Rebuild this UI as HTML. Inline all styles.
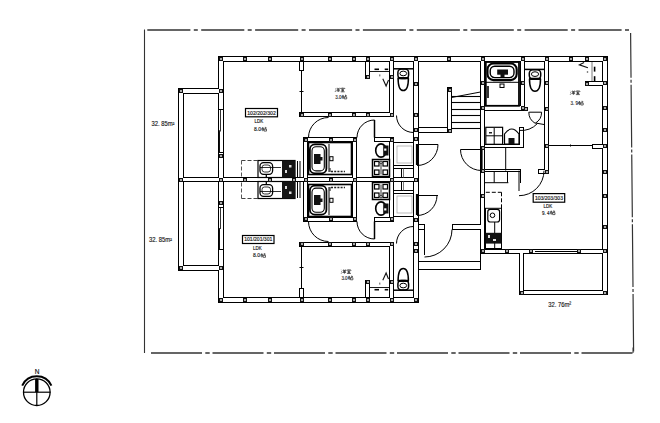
<!DOCTYPE html>
<html><head><meta charset="utf-8"><style>html,body{margin:0;padding:0;background:#fff;width:660px;height:423px;overflow:hidden}svg{display:block}</style></head>
<body><svg width="660" height="423" viewBox="0 0 660 423"><rect width="660" height="423" fill="#fff"/><g fill="none" stroke="#000" stroke-width="1"><rect x="218.5" y="56.5" width="389" height="5"/><rect x="218.5" y="297.5" width="200" height="5"/><rect x="218.5" y="56.5" width="5" height="246"/><rect x="178.5" y="88.5" width="5" height="182"/><rect x="178.5" y="88.5" width="45" height="5"/><rect x="178.5" y="265.5" width="45" height="5"/><rect x="178.5" y="177.5" width="240" height="4"/><rect x="413.5" y="56.5" width="5" height="246"/><rect x="299.5" y="112.5" width="94" height="4"/><rect x="299.5" y="242.5" width="94" height="4"/><rect x="299.5" y="61.5" width="4" height="9"/><rect x="299.5" y="288.5" width="4" height="9"/><rect x="389.5" y="56.5" width="4" height="60"/><rect x="389.5" y="242.5" width="4" height="60"/><rect x="365.5" y="61.5" width="4" height="17"/><rect x="365.5" y="280.5" width="4" height="17"/><rect x="303.5" y="137.5" width="53" height="4"/><rect x="303.5" y="217.5" width="53" height="4"/><rect x="303.5" y="137.5" width="4" height="44"/><rect x="303.5" y="177.5" width="4" height="44"/><rect x="352.5" y="137.5" width="4" height="44"/><rect x="352.5" y="177.5" width="4" height="44"/><rect x="374.5" y="137.5" width="19" height="4"/><rect x="374.5" y="217.5" width="19" height="4"/><rect x="389.5" y="137.5" width="4" height="44"/><rect x="389.5" y="177.5" width="4" height="44"/><rect x="480.5" y="56.5" width="4" height="197"/><rect x="602.5" y="56.5" width="5" height="238"/><rect x="480.5" y="249.5" width="127" height="4"/><rect x="519.5" y="249.5" width="4" height="45"/><rect x="519.5" y="290.5" width="88" height="4"/><rect x="544.5" y="56.5" width="4" height="117"/><rect x="520.5" y="56.5" width="4" height="54"/><rect x="480.5" y="105.5" width="44" height="5"/><rect x="447.5" y="87.5" width="4" height="45"/><rect x="585.5" y="81.5" width="18" height="4"/><rect x="592.5" y="144.5" width="11" height="4"/><rect x="538.5" y="169.5" width="10" height="4"/><rect x="418.5" y="224.5" width="6" height="5"/><rect x="452.5" y="224.5" width="32" height="5"/><rect x="484.5" y="144.5" width="39" height="3"/><rect x="519.5" y="127.5" width="4" height="20"/><rect x="484.5" y="169.5" width="36" height="2"/></g><g fill="#fff" stroke="none"><rect x="219" y="57" width="388" height="4"/><rect x="219" y="298" width="199" height="4"/><rect x="219" y="57" width="4" height="245"/><rect x="179" y="89" width="4" height="181"/><rect x="179" y="89" width="44" height="4"/><rect x="179" y="266" width="44" height="4"/><rect x="179" y="178" width="239" height="3"/><rect x="414" y="57" width="4" height="245"/><rect x="300" y="113" width="93" height="3"/><rect x="300" y="243" width="93" height="3"/><rect x="300" y="62" width="3" height="8"/><rect x="300" y="289" width="3" height="8"/><rect x="390" y="57" width="3" height="59"/><rect x="390" y="243" width="3" height="59"/><rect x="366" y="62" width="3" height="16"/><rect x="366" y="281" width="3" height="16"/><rect x="304" y="138" width="52" height="3"/><rect x="304" y="218" width="52" height="3"/><rect x="304" y="138" width="3" height="43"/><rect x="304" y="178" width="3" height="43"/><rect x="353" y="138" width="3" height="43"/><rect x="353" y="178" width="3" height="43"/><rect x="375" y="138" width="18" height="3"/><rect x="375" y="218" width="18" height="3"/><rect x="390" y="138" width="3" height="43"/><rect x="390" y="178" width="3" height="43"/><rect x="481" y="57" width="3" height="196"/><rect x="603" y="57" width="4" height="237"/><rect x="481" y="250" width="126" height="3"/><rect x="520" y="250" width="3" height="44"/><rect x="520" y="291" width="87" height="3"/><rect x="545" y="57" width="3" height="116"/><rect x="521" y="57" width="3" height="53"/><rect x="481" y="106" width="43" height="4"/><rect x="448" y="88" width="3" height="44"/><rect x="586" y="82" width="17" height="3"/><rect x="593" y="145" width="10" height="3"/><rect x="539" y="170" width="9" height="3"/><rect x="419" y="225" width="5" height="4"/><rect x="453" y="225" width="31" height="4"/><rect x="485" y="145" width="38" height="2"/><rect x="520" y="128" width="3" height="19"/><rect x="485" y="170" width="35" height="1"/></g><g font-family="Liberation Sans, sans-serif" fill="#222"><line x1="144.5" y1="29.5" x2="144.5" y2="353" stroke="#333" stroke-width="1.1" /><line x1="147.3" y1="30" x2="630.8" y2="30" stroke="#333" stroke-width="1.3" stroke-dasharray="43.1 3.4 4 3.4"/><line x1="630.6" y1="33" x2="633.6" y2="351.5" stroke="#333" stroke-width="1.2" stroke-dasharray="62.7 2 3 2" stroke-dashoffset="17.9"/><line x1="151" y1="353" x2="632.5" y2="353" stroke="#333" stroke-width="1.3" stroke-dasharray="51 3.3 4.4 2.8"/><line x1="633" y1="347.5" x2="633" y2="353" stroke="#333" stroke-width="1" /><line x1="218.5" y1="109.5" x2="223.5" y2="109.5" stroke="#000" stroke-width="1" /><line x1="218.5" y1="152.5" x2="223.5" y2="152.5" stroke="#000" stroke-width="1" /><line x1="220.5" y1="110" x2="220.5" y2="131" stroke="#333" stroke-width="1" /><line x1="219.5" y1="130.5" x2="219.5" y2="152.5" stroke="#111" stroke-width="1" /><line x1="219" y1="131" x2="221" y2="131" stroke="#333" stroke-width="1" /><line x1="218.5" y1="207.5" x2="223.5" y2="207.5" stroke="#000" stroke-width="1" /><line x1="218.5" y1="249.5" x2="223.5" y2="249.5" stroke="#000" stroke-width="1" /><line x1="220.5" y1="208" x2="220.5" y2="228.5" stroke="#333" stroke-width="1" /><line x1="219.5" y1="228" x2="219.5" y2="249.5" stroke="#111" stroke-width="1" /><line x1="219" y1="228.5" x2="221" y2="228.5" stroke="#333" stroke-width="1" /><line x1="301.5" y1="70.5" x2="301.5" y2="112.5" stroke="#000" stroke-width="1" /><g transform="matrix(1 0 0 -1 0 359)"><line x1="301.5" y1="70.5" x2="301.5" y2="112.5" stroke="#000" stroke-width="1" /></g><line x1="299.5" y1="91.5" x2="303.5" y2="91.5" stroke="#000" stroke-width="1" /><g transform="matrix(1 0 0 -1 0 359)"><line x1="299.5" y1="91.5" x2="303.5" y2="91.5" stroke="#000" stroke-width="1" /></g><path d="M308.5 137.5 A20 20 0 0 1 328.5 117.5" fill="none" stroke="#000" stroke-width="1"/><g transform="matrix(1 0 0 -1 0 359)"><path d="M308.5 137.5 A20 20 0 0 1 328.5 117.5" fill="none" stroke="#000" stroke-width="1"/></g><path d="M357 137.5 A17.5 17.5 0 0 1 374.5 120" fill="none" stroke="#000" stroke-width="1"/><g transform="matrix(1 0 0 -1 0 359)"><path d="M357 137.5 A17.5 17.5 0 0 1 374.5 120" fill="none" stroke="#000" stroke-width="1"/></g><line x1="374.5" y1="120" x2="374.5" y2="137.5" stroke="#000" stroke-width="1.5" /><g transform="matrix(1 0 0 -1 0 359)"><line x1="374.5" y1="120" x2="374.5" y2="137.5" stroke="#000" stroke-width="1.5" /></g><path d="M413.5 132.5 A17 17 0 0 1 396.5 115.5" fill="none" stroke="#000" stroke-width="1"/><g transform="matrix(1 0 0 -1 0 359)"><path d="M413.5 132.5 A17 17 0 0 1 396.5 115.5" fill="none" stroke="#000" stroke-width="1"/></g><rect x="308.5" y="142.5" width="43" height="32" rx="0" fill="none" stroke="#000" stroke-width="1.6" /><g transform="matrix(1 0 0 -1 0 359)"><rect x="308.5" y="142.5" width="43" height="32" rx="0" fill="none" stroke="#000" stroke-width="1.6" /></g><rect x="309.9" y="144.3" width="16.5" height="29.1" rx="5" fill="none" stroke="#000" stroke-width="1.8" /><g transform="matrix(1 0 0 -1 0 359)"><rect x="309.9" y="144.3" width="16.5" height="29.1" rx="5" fill="none" stroke="#000" stroke-width="1.8" /></g><rect x="312" y="146.7" width="12.3" height="24.2" rx="4" fill="none" stroke="#000" stroke-width="1.1" /><g transform="matrix(1 0 0 -1 0 359)"><rect x="312" y="146.7" width="12.3" height="24.2" rx="4" fill="none" stroke="#000" stroke-width="1.1" /></g><rect x="314" y="154" width="6.5" height="10" rx="0" fill="#111" stroke="none" stroke-width="1" /><g transform="matrix(1 0 0 -1 0 359)"><rect x="314" y="154" width="6.5" height="10" rx="0" fill="#111" stroke="none" stroke-width="1" /></g><rect x="319" y="157" width="3.5" height="3.5" rx="0" fill="#111" stroke="none" stroke-width="1" /><g transform="matrix(1 0 0 -1 0 359)"><rect x="319" y="157" width="3.5" height="3.5" rx="0" fill="#111" stroke="none" stroke-width="1" /></g><line x1="329" y1="144" x2="329" y2="172" stroke="#000" stroke-width="1" /><g transform="matrix(1 0 0 -1 0 359)"><line x1="329" y1="144" x2="329" y2="172" stroke="#000" stroke-width="1" /></g><rect x="329.8" y="156.7" width="3.2" height="4" rx="0" fill="none" stroke="#000" stroke-width="1" /><g transform="matrix(1 0 0 -1 0 359)"><rect x="329.8" y="156.7" width="3.2" height="4" rx="0" fill="none" stroke="#000" stroke-width="1" /></g><line x1="331" y1="171.5" x2="345" y2="171.5" stroke="#222" stroke-width="1.6" stroke-dasharray="2 1.2"/><g transform="matrix(1 0 0 -1 0 359)"><line x1="331" y1="171.5" x2="345" y2="171.5" stroke="#222" stroke-width="1.6" stroke-dasharray="2 1.2"/></g><line x1="330" y1="168" x2="330" y2="172" stroke="#333" stroke-width="1.2" /><g transform="matrix(1 0 0 -1 0 359)"><line x1="330" y1="168" x2="330" y2="172" stroke="#333" stroke-width="1.2" /></g><line x1="241.5" y1="160.5" x2="258" y2="160.5" stroke="#444" stroke-width="1" stroke-dasharray="4 2"/><g transform="matrix(1 0 0 -1 0 359)"><line x1="241.5" y1="160.5" x2="258" y2="160.5" stroke="#444" stroke-width="1" stroke-dasharray="4 2"/></g><line x1="241.5" y1="160.5" x2="241.5" y2="177.5" stroke="#555" stroke-width="1" stroke-dasharray="4 2"/><g transform="matrix(1 0 0 -1 0 359)"><line x1="241.5" y1="160.5" x2="241.5" y2="177.5" stroke="#555" stroke-width="1" stroke-dasharray="4 2"/></g><rect x="258" y="160.5" width="37" height="17" rx="0" fill="none" stroke="#000" stroke-width="1.2" /><g transform="matrix(1 0 0 -1 0 359)"><rect x="258" y="160.5" width="37" height="17" rx="0" fill="none" stroke="#000" stroke-width="1.2" /></g><rect x="260" y="162.7" width="12.6" height="11.6" rx="3.5" fill="none" stroke="#000" stroke-width="1.3" /><g transform="matrix(1 0 0 -1 0 359)"><rect x="260" y="162.7" width="12.6" height="11.6" rx="3.5" fill="none" stroke="#000" stroke-width="1.3" /></g><rect x="262" y="165" width="8.5" height="7" rx="2.5" fill="none" stroke="#000" stroke-width="0.8" /><g transform="matrix(1 0 0 -1 0 359)"><rect x="262" y="165" width="8.5" height="7" rx="2.5" fill="none" stroke="#000" stroke-width="0.8" /></g><line x1="266.3" y1="174.3" x2="266.3" y2="177.5" stroke="#000" stroke-width="1.3" /><g transform="matrix(1 0 0 -1 0 359)"><line x1="266.3" y1="174.3" x2="266.3" y2="177.5" stroke="#000" stroke-width="1.3" /></g><line x1="260" y1="167.5" x2="281" y2="167.5" stroke="#000" stroke-width="0.8" /><g transform="matrix(1 0 0 -1 0 359)"><line x1="260" y1="167.5" x2="281" y2="167.5" stroke="#000" stroke-width="0.8" /></g><rect x="282" y="160.5" width="13" height="17" rx="0" fill="#151515" stroke="none" stroke-width="1" /><g transform="matrix(1 0 0 -1 0 359)"><rect x="282" y="160.5" width="13" height="17" rx="0" fill="#151515" stroke="none" stroke-width="1" /></g><rect x="285" y="170" width="2" height="3" rx="0" fill="#ddd" stroke="none" stroke-width="1" /><g transform="matrix(1 0 0 -1 0 359)"><rect x="285" y="170" width="2" height="3" rx="0" fill="#ddd" stroke="none" stroke-width="1" /></g><rect x="289" y="165" width="2.5" height="2.5" rx="0" fill="#ddd" stroke="none" stroke-width="1" /><g transform="matrix(1 0 0 -1 0 359)"><rect x="289" y="165" width="2.5" height="2.5" rx="0" fill="#ddd" stroke="none" stroke-width="1" /></g><line x1="297.5" y1="161" x2="297.5" y2="177.5" stroke="#000" stroke-width="1" /><g transform="matrix(1 0 0 -1 0 359)"><line x1="297.5" y1="161" x2="297.5" y2="177.5" stroke="#000" stroke-width="1" /></g><line x1="300" y1="161" x2="300" y2="177.5" stroke="#000" stroke-width="1" /><g transform="matrix(1 0 0 -1 0 359)"><line x1="300" y1="161" x2="300" y2="177.5" stroke="#000" stroke-width="1" /></g><line x1="370" y1="71.5" x2="389.5" y2="71.5" stroke="#000" stroke-width="0.9" /><g transform="matrix(1 0 0 -1 0 359)"><line x1="370" y1="71.5" x2="389.5" y2="71.5" stroke="#000" stroke-width="0.9" /></g><line x1="374.5" y1="69.3" x2="379" y2="69.3" stroke="#000" stroke-width="1.6" /><g transform="matrix(1 0 0 -1 0 359)"><line x1="374.5" y1="69.3" x2="379" y2="69.3" stroke="#000" stroke-width="1.6" /></g><line x1="384.7" y1="69.3" x2="388.2" y2="69.3" stroke="#000" stroke-width="1.6" /><g transform="matrix(1 0 0 -1 0 359)"><line x1="384.7" y1="69.3" x2="388.2" y2="69.3" stroke="#000" stroke-width="1.6" /></g><path d="M382.8 78.8 L386.1 86 L388.5 80" fill="none" stroke="#111" stroke-width="1.1"/><g transform="matrix(1 0 0 -1 0 359)"><path d="M382.8 78.8 L386.1 86 L388.5 80" fill="none" stroke="#111" stroke-width="1.1"/></g><line x1="379.8" y1="74.4" x2="379.8" y2="76.4" stroke="#444" stroke-width="0.9" /><g transform="matrix(1 0 0 -1 0 359)"><line x1="379.8" y1="74.4" x2="379.8" y2="76.4" stroke="#444" stroke-width="0.9" /></g><rect x="390.5" y="75.5" width="3" height="3" fill="#aaa" stroke="#111" stroke-width="1"/><rect x="390.5" y="280.5" width="3" height="3" fill="#aaa" stroke="#111" stroke-width="1"/><rect x="366.5" y="75.5" width="3" height="3" fill="#aaa" stroke="#111" stroke-width="1"/><rect x="366.5" y="280.5" width="3" height="3" fill="#aaa" stroke="#111" stroke-width="1"/><g fill="none" stroke="#000"><line x1="393.5" y1="68.8" x2="413.5" y2="68.8" stroke-width="1.5"/><rect x="397.9" y="69.1" width="10.7" height="9.33" rx="3.5" stroke-width="1.5"/><path d="M398.1 78.13 C398.1 86.79 399.86 90.5 403.25 90.5 C406.64 90.5 408.4 86.79 408.4 78.13" stroke-width="1.5"/><line x1="397.6" y1="78.13" x2="408.9" y2="78.13" stroke-width="2.2"/><ellipse cx="403.25" cy="73.47" rx="3.39" ry="2.33" stroke-width="1"/></g><g transform="matrix(1 0 0 -1 0 359)"><g fill="none" stroke="#000"><line x1="393.5" y1="68.8" x2="413.5" y2="68.8" stroke-width="1.5"/><rect x="397.9" y="69.1" width="10.7" height="9.33" rx="3.5" stroke-width="1.5"/><path d="M398.1 78.13 C398.1 86.79 399.86 90.5 403.25 90.5 C406.64 90.5 408.4 86.79 408.4 78.13" stroke-width="1.5"/><line x1="397.6" y1="78.13" x2="408.9" y2="78.13" stroke-width="2.2"/><ellipse cx="403.25" cy="73.47" rx="3.39" ry="2.33" stroke-width="1"/></g></g><ellipse cx="381" cy="150.5" rx="5.3" ry="6.6" fill="none" stroke="#000" stroke-width="1.6"/><g transform="matrix(1 0 0 -1 0 359)"><ellipse cx="381" cy="150.5" rx="5.3" ry="6.6" fill="none" stroke="#000" stroke-width="1.6"/></g><rect x="383.2" y="145.5" width="5.3" height="10" rx="0" fill="#111" stroke="none" stroke-width="1" /><g transform="matrix(1 0 0 -1 0 359)"><rect x="383.2" y="145.5" width="5.3" height="10" rx="0" fill="#111" stroke="none" stroke-width="1" /></g><rect x="384.2" y="148.5" width="2.2" height="2.2" rx="0" fill="#fff" stroke="none" stroke-width="1" /><g transform="matrix(1 0 0 -1 0 359)"><rect x="384.2" y="148.5" width="2.2" height="2.2" rx="0" fill="#fff" stroke="none" stroke-width="1" /></g><rect x="372.5" y="159.5" width="17" height="17" rx="0" fill="none" stroke="#000" stroke-width="1.5" /><g transform="matrix(1 0 0 -1 0 359)"><rect x="372.5" y="159.5" width="17" height="17" rx="0" fill="none" stroke="#000" stroke-width="1.5" /></g><rect x="374.5" y="161.5" width="4.5" height="4.5" rx="0" fill="none" stroke="#000" stroke-width="1.2" /><g transform="matrix(1 0 0 -1 0 359)"><rect x="374.5" y="161.5" width="4.5" height="4.5" rx="0" fill="none" stroke="#000" stroke-width="1.2" /></g><rect x="383" y="161.5" width="4.5" height="4.5" rx="0" fill="none" stroke="#000" stroke-width="1.2" /><g transform="matrix(1 0 0 -1 0 359)"><rect x="383" y="161.5" width="4.5" height="4.5" rx="0" fill="none" stroke="#000" stroke-width="1.2" /></g><rect x="374.5" y="170" width="4.5" height="4.5" rx="0" fill="none" stroke="#000" stroke-width="1.2" /><g transform="matrix(1 0 0 -1 0 359)"><rect x="374.5" y="170" width="4.5" height="4.5" rx="0" fill="none" stroke="#000" stroke-width="1.2" /></g><rect x="383" y="170" width="4.5" height="4.5" rx="0" fill="none" stroke="#000" stroke-width="1.2" /><g transform="matrix(1 0 0 -1 0 359)"><rect x="383" y="170" width="4.5" height="4.5" rx="0" fill="none" stroke="#000" stroke-width="1.2" /></g><circle cx="381" cy="162.3" r="1.2" fill="none" stroke="#000" stroke-width="0.8"/><g transform="matrix(1 0 0 -1 0 359)"><circle cx="381" cy="162.3" r="1.2" fill="none" stroke="#000" stroke-width="0.8"/></g><line x1="381" y1="163.5" x2="381" y2="174.5" stroke="#000" stroke-width="0.8" /><g transform="matrix(1 0 0 -1 0 359)"><line x1="381" y1="163.5" x2="381" y2="174.5" stroke="#000" stroke-width="0.8" /></g><line x1="393.5" y1="142.5" x2="413.5" y2="142.5" stroke="#000" stroke-width="1" /><g transform="matrix(1 0 0 -1 0 359)"><line x1="393.5" y1="142.5" x2="413.5" y2="142.5" stroke="#000" stroke-width="1" /></g><line x1="393.5" y1="165.5" x2="413.5" y2="165.5" stroke="#000" stroke-width="1" /><g transform="matrix(1 0 0 -1 0 359)"><line x1="393.5" y1="165.5" x2="413.5" y2="165.5" stroke="#000" stroke-width="1" /></g><rect x="397" y="146" width="15" height="17" rx="0" fill="none" stroke="#aaa" stroke-width="0.8" /><g transform="matrix(1 0 0 -1 0 359)"><rect x="397" y="146" width="15" height="17" rx="0" fill="none" stroke="#aaa" stroke-width="0.8" /></g><line x1="393.5" y1="168.5" x2="413.5" y2="168.5" stroke="#000" stroke-width="1" /><g transform="matrix(1 0 0 -1 0 359)"><line x1="393.5" y1="168.5" x2="413.5" y2="168.5" stroke="#000" stroke-width="1" /></g><line x1="401.5" y1="168.5" x2="401.5" y2="177.5" stroke="#000" stroke-width="1" /><g transform="matrix(1 0 0 -1 0 359)"><line x1="401.5" y1="168.5" x2="401.5" y2="177.5" stroke="#000" stroke-width="1" /></g><line x1="403.5" y1="168.5" x2="403.5" y2="177.5" stroke="#555" stroke-width="0.8" /><g transform="matrix(1 0 0 -1 0 359)"><line x1="403.5" y1="168.5" x2="403.5" y2="177.5" stroke="#555" stroke-width="0.8" /></g><line x1="417" y1="144" x2="417" y2="165" stroke="#000" stroke-width="2.2" /><line x1="417" y1="144.5" x2="438" y2="144.5" stroke="#000" stroke-width="1" /><path d="M438 144.5 A21 21 0 0 1 417 165.5" fill="none" stroke="#000" stroke-width="1"/><line x1="417" y1="194" x2="417" y2="215" stroke="#000" stroke-width="2.2" /><line x1="417" y1="195.5" x2="438" y2="195.5" stroke="#000" stroke-width="1" /><path d="M437 195.5 A20 20 0 0 1 417 215.5" fill="none" stroke="#000" stroke-width="1"/><line x1="481.5" y1="148.5" x2="481.5" y2="170.5" stroke="#000" stroke-width="2.2" /><line x1="460.5" y1="149.5" x2="481.5" y2="149.5" stroke="#000" stroke-width="1" /><path d="M481.5 170.5 A21 21 0 0 1 460.5 149.5" fill="none" stroke="#000" stroke-width="1"/><line x1="424.5" y1="229.5" x2="424.5" y2="255" stroke="#000" stroke-width="1" /><path d="M452 229.5 A27.5 27.5 0 0 1 424.5 257" fill="none" stroke="#000" stroke-width="1"/><line x1="418.5" y1="261.5" x2="480.5" y2="261.5" stroke="#000" stroke-width="1" /><line x1="418.5" y1="269.5" x2="480.5" y2="269.5" stroke="#000" stroke-width="1" /><line x1="480.5" y1="253.5" x2="480.5" y2="270" stroke="#000" stroke-width="1" /><line x1="451.5" y1="97.5" x2="480.5" y2="92" stroke="#000" stroke-width="1" /><line x1="451.5" y1="96.5" x2="480.5" y2="96.5" stroke="#000" stroke-width="1.1" /><line x1="451.5" y1="102.5" x2="480.5" y2="102.5" stroke="#000" stroke-width="1.1" /><line x1="451.5" y1="109.5" x2="480.5" y2="109.5" stroke="#000" stroke-width="1.1" /><line x1="451.5" y1="115.5" x2="480.5" y2="115.5" stroke="#000" stroke-width="1.1" /><line x1="451.5" y1="122.5" x2="480.5" y2="122.5" stroke="#000" stroke-width="1.1" /><line x1="451.5" y1="128.5" x2="480.5" y2="128.5" stroke="#000" stroke-width="1.1" /><line x1="418.5" y1="127.5" x2="447.5" y2="127.5" stroke="#000" stroke-width="1" /><line x1="418.5" y1="132.5" x2="447.5" y2="132.5" stroke="#000" stroke-width="1" /><rect x="485.8" y="62" width="33.2" height="43.8" rx="0" fill="none" stroke="#000" stroke-width="1.8" /><rect x="487.5" y="63.5" width="29.2" height="16.6" rx="6" fill="none" stroke="#000" stroke-width="2.1" /><rect x="490.2" y="66.2" width="23.8" height="11.4" rx="4.5" fill="none" stroke="#000" stroke-width="1.4" /><rect x="497.2" y="69.5" width="10.8" height="5.2" rx="0" fill="#111" stroke="none" stroke-width="1" /><rect x="500.5" y="74" width="4" height="3" rx="0" fill="#111" stroke="none" stroke-width="1" /><line x1="486" y1="82.3" x2="519" y2="82.3" stroke="#000" stroke-width="1" /><rect x="500" y="84" width="4" height="3.5" rx="0" fill="none" stroke="#000" stroke-width="1" /><rect x="486.5" y="86" width="2.5" height="12" rx="0" fill="#333" stroke="none" stroke-width="1" /><g fill="none" stroke="#000"><line x1="524.5" y1="69.4" x2="544.5" y2="69.4" stroke-width="1.5"/><rect x="529.3" y="69.7" width="11.4" height="9.42" rx="3.5" stroke-width="1.5"/><path d="M529.5 78.82 C529.5 87.56 531.4 91.3 535 91.3 C538.6 91.3 540.5 87.56 540.5 78.82" stroke-width="1.5"/><line x1="529" y1="78.82" x2="541" y2="78.82" stroke-width="2.2"/><ellipse cx="535" cy="74.11" rx="3.6" ry="2.35" stroke-width="1"/></g><path d="M528.8 112.2 A12.8 12.8 0 0 0 535.2 123.29" fill="none" stroke="#000" stroke-width="1"/><path d="M541.6 112.2 A12.8 12.8 0 0 1 535.2 123.29" fill="none" stroke="#000" stroke-width="1"/><line x1="528.8" y1="112.2" x2="541.6" y2="112.2" stroke="#000" stroke-width="1" /><line x1="535.5" y1="123" x2="544.5" y2="124.6" stroke="#000" stroke-width="1" /><path d="M537.54 123.48 A23 23 0 0 1 519 130.41" fill="none" stroke="#000" stroke-width="1"/><rect x="485.8" y="127.3" width="16.8" height="17" rx="0" fill="none" stroke="#000" stroke-width="1.2" /><line x1="494.2" y1="128" x2="494.2" y2="144" stroke="#000" stroke-width="1" /><line x1="486" y1="135.8" x2="502.6" y2="135.8" stroke="#000" stroke-width="1" /><rect x="489" y="132" width="3" height="1.5" rx="0" fill="#222" stroke="none" stroke-width="1" /><path d="M504.5 144 L504.5 134 Q511.7 124 519 134 L519 144 Z" fill="none" stroke="#000" stroke-width="1.2"/><rect x="508.5" y="138" width="6" height="6" rx="0" fill="#111" stroke="none" stroke-width="1" /><line x1="505.7" y1="147.5" x2="505.7" y2="170.5" stroke="#000" stroke-width="1" /><line x1="520.5" y1="171.5" x2="520.5" y2="183" stroke="#000" stroke-width="1" /><line x1="484.5" y1="182.7" x2="508.4" y2="182.7" stroke="#000" stroke-width="1" /><line x1="494.2" y1="171.5" x2="494.2" y2="182.7" stroke="#000" stroke-width="1" /><line x1="507.5" y1="171.5" x2="507.5" y2="182.7" stroke="#000" stroke-width="1" /><line x1="519" y1="170.7" x2="519" y2="191" stroke="#000" stroke-width="1" /><path d="M544 170.7 A25 25 0 0 1 519 195.7" fill="none" stroke="#000" stroke-width="1"/><line x1="548.5" y1="145.5" x2="592.5" y2="145.5" stroke="#000" stroke-width="1" /><line x1="570.5" y1="144.5" x2="570.5" y2="146.5" stroke="#000" stroke-width="1" /><line x1="594.6" y1="66.7" x2="594.6" y2="71.6" stroke="#000" stroke-width="1.6" /><line x1="594.6" y1="76.2" x2="594.6" y2="81" stroke="#000" stroke-width="1.6" /><line x1="592" y1="62" x2="592" y2="81" stroke="#555" stroke-width="0.8" /><path d="M584.1 62.5 L579.4 64.8 L587.9 67.7" fill="none" stroke="#111" stroke-width="1.1"/><circle cx="587.5" cy="72" r="0.8" fill="#444"/><line x1="485.8" y1="192.3" x2="501.5" y2="192.3" stroke="#000" stroke-width="1" stroke-dasharray="4 2"/><line x1="501.5" y1="192.3" x2="501.5" y2="208.3" stroke="#000" stroke-width="1" stroke-dasharray="4 2"/><rect x="485.5" y="208.3" width="16" height="40.2" rx="0" fill="none" stroke="#000" stroke-width="1" /><rect x="487.8" y="209.3" width="11.8" height="12.7" rx="2.5" fill="none" stroke="#000" stroke-width="1.2" /><circle cx="492.5" cy="215.3" r="2.3" fill="none" stroke="#000" stroke-width="1"/><line x1="494.7" y1="222" x2="494.7" y2="248.5" stroke="#000" stroke-width="1" /><rect x="485.8" y="232.8" width="15.7" height="10.8" rx="0" fill="#111" stroke="none" stroke-width="1" /><rect x="488" y="235" width="2" height="3" rx="0" fill="#ddd" stroke="none" stroke-width="1" /><rect x="493" y="239" width="3" height="2" rx="0" fill="#ddd" stroke="none" stroke-width="1" /><line x1="535" y1="251.5" x2="578" y2="251.5" stroke="#000" stroke-width="1" /><rect x="219.5" y="57.5" width="3" height="3" fill="#aaa" stroke="#111" stroke-width="1"/><rect x="243.5" y="57.5" width="3" height="3" fill="#aaa" stroke="#111" stroke-width="1"/><rect x="268.5" y="57.5" width="3" height="3" fill="#aaa" stroke="#111" stroke-width="1"/><rect x="300.5" y="57.5" width="3" height="3" fill="#aaa" stroke="#111" stroke-width="1"/><rect x="328.5" y="57.5" width="3" height="3" fill="#aaa" stroke="#111" stroke-width="1"/><rect x="352.5" y="57.5" width="3" height="3" fill="#aaa" stroke="#111" stroke-width="1"/><rect x="366.5" y="57.5" width="3" height="3" fill="#aaa" stroke="#111" stroke-width="1"/><rect x="390.5" y="57.5" width="3" height="3" fill="#aaa" stroke="#111" stroke-width="1"/><rect x="414.5" y="57.5" width="3" height="3" fill="#aaa" stroke="#111" stroke-width="1"/><rect x="447.5" y="57.5" width="3" height="3" fill="#aaa" stroke="#111" stroke-width="1"/><rect x="481.5" y="57.5" width="3" height="3" fill="#aaa" stroke="#111" stroke-width="1"/><rect x="521.5" y="57.5" width="3" height="3" fill="#aaa" stroke="#111" stroke-width="1"/><rect x="545.5" y="57.5" width="3" height="3" fill="#aaa" stroke="#111" stroke-width="1"/><rect x="569.5" y="57.5" width="3" height="3" fill="#aaa" stroke="#111" stroke-width="1"/><rect x="585.5" y="57.5" width="3" height="3" fill="#aaa" stroke="#111" stroke-width="1"/><rect x="603.5" y="57.5" width="3" height="3" fill="#aaa" stroke="#111" stroke-width="1"/><rect x="219.5" y="298.5" width="3" height="3" fill="#aaa" stroke="#111" stroke-width="1"/><rect x="243.5" y="298.5" width="3" height="3" fill="#aaa" stroke="#111" stroke-width="1"/><rect x="268.5" y="298.5" width="3" height="3" fill="#aaa" stroke="#111" stroke-width="1"/><rect x="300.5" y="298.5" width="3" height="3" fill="#aaa" stroke="#111" stroke-width="1"/><rect x="328.5" y="298.5" width="3" height="3" fill="#aaa" stroke="#111" stroke-width="1"/><rect x="352.5" y="298.5" width="3" height="3" fill="#aaa" stroke="#111" stroke-width="1"/><rect x="366.5" y="298.5" width="3" height="3" fill="#aaa" stroke="#111" stroke-width="1"/><rect x="390.5" y="298.5" width="3" height="3" fill="#aaa" stroke="#111" stroke-width="1"/><rect x="414.5" y="298.5" width="3" height="3" fill="#aaa" stroke="#111" stroke-width="1"/><rect x="219.5" y="89.5" width="3" height="3" fill="#aaa" stroke="#111" stroke-width="1"/><rect x="219.5" y="266.5" width="3" height="3" fill="#aaa" stroke="#111" stroke-width="1"/><rect x="219.5" y="154.5" width="3" height="3" fill="#aaa" stroke="#111" stroke-width="1"/><rect x="219.5" y="201.5" width="3" height="3" fill="#aaa" stroke="#111" stroke-width="1"/><rect x="179.5" y="89.5" width="3" height="3" fill="#aaa" stroke="#111" stroke-width="1"/><rect x="179.5" y="266.5" width="3" height="3" fill="#aaa" stroke="#111" stroke-width="1"/><rect x="300.5" y="113.5" width="3" height="3" fill="#aaa" stroke="#111" stroke-width="1"/><rect x="300.5" y="242.5" width="3" height="3" fill="#aaa" stroke="#111" stroke-width="1"/><rect x="328.5" y="113.5" width="3" height="3" fill="#aaa" stroke="#111" stroke-width="1"/><rect x="328.5" y="242.5" width="3" height="3" fill="#aaa" stroke="#111" stroke-width="1"/><rect x="352.5" y="113.5" width="3" height="3" fill="#aaa" stroke="#111" stroke-width="1"/><rect x="352.5" y="242.5" width="3" height="3" fill="#aaa" stroke="#111" stroke-width="1"/><rect x="366.5" y="113.5" width="3" height="3" fill="#aaa" stroke="#111" stroke-width="1"/><rect x="366.5" y="242.5" width="3" height="3" fill="#aaa" stroke="#111" stroke-width="1"/><rect x="390.5" y="113.5" width="3" height="3" fill="#aaa" stroke="#111" stroke-width="1"/><rect x="390.5" y="242.5" width="3" height="3" fill="#aaa" stroke="#111" stroke-width="1"/><rect x="304.5" y="138.5" width="3" height="3" fill="#aaa" stroke="#111" stroke-width="1"/><rect x="304.5" y="217.5" width="3" height="3" fill="#aaa" stroke="#111" stroke-width="1"/><rect x="329.5" y="138.5" width="3" height="3" fill="#aaa" stroke="#111" stroke-width="1"/><rect x="329.5" y="217.5" width="3" height="3" fill="#aaa" stroke="#111" stroke-width="1"/><rect x="353.5" y="138.5" width="3" height="3" fill="#aaa" stroke="#111" stroke-width="1"/><rect x="353.5" y="217.5" width="3" height="3" fill="#aaa" stroke="#111" stroke-width="1"/><rect x="390.5" y="138.5" width="3" height="3" fill="#aaa" stroke="#111" stroke-width="1"/><rect x="390.5" y="217.5" width="3" height="3" fill="#aaa" stroke="#111" stroke-width="1"/><rect x="179.5" y="178.5" width="3" height="3" fill="#aaa" stroke="#111" stroke-width="1"/><rect x="219.5" y="178.5" width="3" height="3" fill="#aaa" stroke="#111" stroke-width="1"/><rect x="243.5" y="178.5" width="3" height="3" fill="#aaa" stroke="#111" stroke-width="1"/><rect x="268.5" y="178.5" width="3" height="3" fill="#aaa" stroke="#111" stroke-width="1"/><rect x="292.5" y="178.5" width="3" height="3" fill="#aaa" stroke="#111" stroke-width="1"/><rect x="304.5" y="178.5" width="3" height="3" fill="#aaa" stroke="#111" stroke-width="1"/><rect x="329.5" y="178.5" width="3" height="3" fill="#aaa" stroke="#111" stroke-width="1"/><rect x="353.5" y="178.5" width="3" height="3" fill="#aaa" stroke="#111" stroke-width="1"/><rect x="390.5" y="178.5" width="3" height="3" fill="#aaa" stroke="#111" stroke-width="1"/><rect x="414.5" y="178.5" width="3" height="3" fill="#aaa" stroke="#111" stroke-width="1"/><rect x="481.5" y="81.5" width="3" height="3" fill="#aaa" stroke="#111" stroke-width="1"/><rect x="481.5" y="106.5" width="3" height="3" fill="#aaa" stroke="#111" stroke-width="1"/><rect x="521.5" y="81.5" width="3" height="3" fill="#aaa" stroke="#111" stroke-width="1"/><rect x="521.5" y="106.5" width="3" height="3" fill="#aaa" stroke="#111" stroke-width="1"/><rect x="481.5" y="146.5" width="3" height="3" fill="#aaa" stroke="#111" stroke-width="1"/><rect x="481.5" y="169.5" width="3" height="3" fill="#aaa" stroke="#111" stroke-width="1"/><rect x="481.5" y="194.5" width="3" height="3" fill="#aaa" stroke="#111" stroke-width="1"/><rect x="481.5" y="249.5" width="3" height="3" fill="#aaa" stroke="#111" stroke-width="1"/><rect x="505.5" y="249.5" width="3" height="3" fill="#aaa" stroke="#111" stroke-width="1"/><rect x="529.5" y="249.5" width="3" height="3" fill="#aaa" stroke="#111" stroke-width="1"/><rect x="577.5" y="249.5" width="3" height="3" fill="#aaa" stroke="#111" stroke-width="1"/><rect x="603.5" y="249.5" width="3" height="3" fill="#aaa" stroke="#111" stroke-width="1"/><rect x="520.5" y="291.5" width="3" height="3" fill="#aaa" stroke="#111" stroke-width="1"/><rect x="603.5" y="291.5" width="3" height="3" fill="#aaa" stroke="#111" stroke-width="1"/><rect x="603.5" y="81.5" width="3" height="3" fill="#aaa" stroke="#111" stroke-width="1"/><rect x="603.5" y="106.5" width="3" height="3" fill="#aaa" stroke="#111" stroke-width="1"/><rect x="603.5" y="128.5" width="3" height="3" fill="#aaa" stroke="#111" stroke-width="1"/><rect x="603.5" y="144.5" width="3" height="3" fill="#aaa" stroke="#111" stroke-width="1"/><rect x="603.5" y="170.5" width="3" height="3" fill="#aaa" stroke="#111" stroke-width="1"/><rect x="603.5" y="194.5" width="3" height="3" fill="#aaa" stroke="#111" stroke-width="1"/><rect x="603.5" y="225.5" width="3" height="3" fill="#aaa" stroke="#111" stroke-width="1"/><rect x="545.5" y="81.5" width="3" height="3" fill="#aaa" stroke="#111" stroke-width="1"/><rect x="545.5" y="107.5" width="3" height="3" fill="#aaa" stroke="#111" stroke-width="1"/><rect x="545.5" y="144.5" width="3" height="3" fill="#aaa" stroke="#111" stroke-width="1"/><rect x="545.5" y="170.5" width="3" height="3" fill="#aaa" stroke="#111" stroke-width="1"/><rect x="585.5" y="82.5" width="3" height="3" fill="#aaa" stroke="#111" stroke-width="1"/><rect x="524.5" y="107.5" width="3" height="3" fill="#aaa" stroke="#111" stroke-width="1"/><rect x="448.5" y="88.5" width="3" height="3" fill="#aaa" stroke="#111" stroke-width="1"/><rect x="448.5" y="129.5" width="3" height="3" fill="#aaa" stroke="#111" stroke-width="1"/><rect x="414.5" y="82.5" width="3" height="3" fill="#aaa" stroke="#111" stroke-width="1"/><rect x="414.5" y="113.5" width="3" height="3" fill="#aaa" stroke="#111" stroke-width="1"/><rect x="414.5" y="128.5" width="3" height="3" fill="#aaa" stroke="#111" stroke-width="1"/><rect x="414.5" y="137.5" width="3" height="3" fill="#aaa" stroke="#111" stroke-width="1"/><rect x="414.5" y="218.5" width="3" height="3" fill="#aaa" stroke="#111" stroke-width="1"/><rect x="414.5" y="242.5" width="3" height="3" fill="#aaa" stroke="#111" stroke-width="1"/><rect x="414.5" y="249.5" width="3" height="3" fill="#aaa" stroke="#111" stroke-width="1"/><rect x="245.5" y="108.5" width="32" height="8.3" rx="0" fill="none" stroke="#000" stroke-width="1.2" /><text x="261.5" y="114.6" font-size="4.6" text-anchor="middle" stroke="#222" stroke-width="0.15" fill="#111" font-family="Liberation Sans, sans-serif" textLength="28.5" lengthAdjust="spacingAndGlyphs">102/202/302</text><text x="259" y="123" font-size="4.5" text-anchor="middle" stroke="#222" stroke-width="0.15" fill="#111" font-family="Liberation Sans, sans-serif">LDK</text><text x="254" y="131" font-size="5" text-anchor="start" stroke="#222" stroke-width="0.15" fill="#111" font-family="Liberation Sans, sans-serif" textLength="7" lengthAdjust="spacingAndGlyphs">8.0</text><path transform="translate(261.6 126.9) scale(1)" d="M0.3 1.3 H2 V3.6 M0.3 1.3 V3.4 M1.15 0.2 V4.3 M3.7 0 V2.2 M3.7 1 H5 M2.5 2.2 H4.9 V4.2 H2.5 Z" fill="none" stroke="#333" stroke-width="0.75"/><rect x="242.5" y="235.5" width="31.5" height="8" rx="0" fill="none" stroke="#000" stroke-width="1.2" /><text x="258.25" y="241.3" font-size="4.6" text-anchor="middle" stroke="#222" stroke-width="0.15" fill="#111" font-family="Liberation Sans, sans-serif" textLength="28" lengthAdjust="spacingAndGlyphs">101/201/301</text><text x="257.5" y="250" font-size="4.5" text-anchor="middle" stroke="#222" stroke-width="0.15" fill="#111" font-family="Liberation Sans, sans-serif">LDK</text><text x="253" y="257.2" font-size="5" text-anchor="start" stroke="#222" stroke-width="0.15" fill="#111" font-family="Liberation Sans, sans-serif" textLength="7" lengthAdjust="spacingAndGlyphs">8.0</text><path transform="translate(260.6 253.1) scale(1)" d="M0.3 1.3 H2 V3.6 M0.3 1.3 V3.4 M1.15 0.2 V4.3 M3.7 0 V2.2 M3.7 1 H5 M2.5 2.2 H4.9 V4.2 H2.5 Z" fill="none" stroke="#333" stroke-width="0.75"/><rect x="533.2" y="193.6" width="31.5" height="8.6" rx="0" fill="none" stroke="#000" stroke-width="1.2" /><text x="548.95" y="200" font-size="4.6" text-anchor="middle" stroke="#222" stroke-width="0.15" fill="#111" font-family="Liberation Sans, sans-serif" textLength="28" lengthAdjust="spacingAndGlyphs">103/203/303</text><text x="548" y="207.8" font-size="4.5" text-anchor="middle" stroke="#222" stroke-width="0.15" fill="#111" font-family="Liberation Sans, sans-serif">LDK</text><text x="542" y="214.5" font-size="5" text-anchor="start" stroke="#222" stroke-width="0.15" fill="#111" font-family="Liberation Sans, sans-serif" textLength="7.5" lengthAdjust="spacingAndGlyphs">9. 4</text><path transform="translate(550.1 210.4) scale(1)" d="M0.3 1.3 H2 V3.6 M0.3 1.3 V3.4 M1.15 0.2 V4.3 M3.7 0 V2.2 M3.7 1 H5 M2.5 2.2 H4.9 V4.2 H2.5 Z" fill="none" stroke="#333" stroke-width="0.75"/><text x="163" y="126" font-size="7" text-anchor="middle" stroke="#222" stroke-width="0.15" fill="#111" font-family="Liberation Sans, sans-serif" textLength="23" lengthAdjust="spacingAndGlyphs">32. 85m&#xB2;</text><text x="160.5" y="241.8" font-size="7" text-anchor="middle" stroke="#222" stroke-width="0.15" fill="#111" font-family="Liberation Sans, sans-serif" textLength="23" lengthAdjust="spacingAndGlyphs">32. 85m&#xB2;</text><text x="559.8" y="307.3" font-size="7.2" text-anchor="middle" stroke="#222" stroke-width="0.15" fill="#111" font-family="Liberation Sans, sans-serif" textLength="23" lengthAdjust="spacingAndGlyphs">32. 76m&#xB2;</text><circle cx="36.8" cy="392.2" r="13.3" fill="none" stroke="#000" stroke-width="1.3"/><path d="M22.2 385.6 A16.1 16.1 0 0 1 51.4 385.6" fill="none" stroke="#000" stroke-width="2"/><line x1="23.1" y1="392.2" x2="50.5" y2="392.2" stroke="#000" stroke-width="1.2" /><line x1="36.8" y1="378.5" x2="36.8" y2="406" stroke="#000" stroke-width="1.2" /><line x1="36.8" y1="379" x2="36.8" y2="392" stroke="#000" stroke-width="3.4" /><text x="37" y="374" font-size="6.5" text-anchor="middle" stroke="#222" stroke-width="0.15" fill="#000" font-family="Liberation Sans, sans-serif">N</text><path transform="translate(334.8 87.7) scale(1)" d="M0.5 0.4 L1 0.9 M0.3 1.9 L0.9 2.4 M0.2 4.2 L1.2 2.9 M2.6 0.1 L2.9 0.6 M4.4 0.1 L4.1 0.6 M1.9 1.1 H5 M2.1 2.1 H4.8 M1.7 3.1 H5.1 M3.45 0.9 V4.3" fill="none" stroke="#333" stroke-width="0.75"/><path transform="translate(340.2 87.7) scale(1)" d="M2.5 0 V0.5 M0.4 1.3 V0.6 H4.6 V1.3 M1.1 1.5 H3.9 M2.5 1.5 L1.6 2.4 H3.6 M1.2 3 H3.8 M2.5 2.4 V4.1 M0.5 4.1 H4.5" fill="none" stroke="#333" stroke-width="0.75"/><text x="335.2" y="98.6" font-size="4.8" text-anchor="start" stroke="#222" stroke-width="0.15" fill="#333" font-family="Liberation Sans, sans-serif" textLength="6.2" lengthAdjust="spacingAndGlyphs">3.0</text><path transform="translate(341.8 94.7) scale(1)" d="M0.3 1.3 H2 V3.6 M0.3 1.3 V3.4 M1.15 0.2 V4.3 M3.7 0 V2.2 M3.7 1 H5 M2.5 2.2 H4.9 V4.2 H2.5 Z" fill="none" stroke="#333" stroke-width="0.75"/><path transform="translate(341 269.4) scale(1)" d="M0.5 0.4 L1 0.9 M0.3 1.9 L0.9 2.4 M0.2 4.2 L1.2 2.9 M2.6 0.1 L2.9 0.6 M4.4 0.1 L4.1 0.6 M1.9 1.1 H5 M2.1 2.1 H4.8 M1.7 3.1 H5.1 M3.45 0.9 V4.3" fill="none" stroke="#333" stroke-width="0.75"/><path transform="translate(346.4 269.4) scale(1)" d="M2.5 0 V0.5 M0.4 1.3 V0.6 H4.6 V1.3 M1.1 1.5 H3.9 M2.5 1.5 L1.6 2.4 H3.6 M1.2 3 H3.8 M2.5 2.4 V4.1 M0.5 4.1 H4.5" fill="none" stroke="#333" stroke-width="0.75"/><text x="341.4" y="279.5" font-size="4.8" text-anchor="start" stroke="#222" stroke-width="0.15" fill="#333" font-family="Liberation Sans, sans-serif" textLength="6.2" lengthAdjust="spacingAndGlyphs">3.0</text><path transform="translate(348 275.6) scale(1)" d="M0.3 1.3 H2 V3.6 M0.3 1.3 V3.4 M1.15 0.2 V4.3 M3.7 0 V2.2 M3.7 1 H5 M2.5 2.2 H4.9 V4.2 H2.5 Z" fill="none" stroke="#333" stroke-width="0.75"/><path transform="translate(570 90.5) scale(1)" d="M0.5 0.4 L1 0.9 M0.3 1.9 L0.9 2.4 M0.2 4.2 L1.2 2.9 M2.6 0.1 L2.9 0.6 M4.4 0.1 L4.1 0.6 M1.9 1.1 H5 M2.1 2.1 H4.8 M1.7 3.1 H5.1 M3.45 0.9 V4.3" fill="none" stroke="#333" stroke-width="0.75"/><path transform="translate(575.4 90.5) scale(1)" d="M2.5 0 V0.5 M0.4 1.3 V0.6 H4.6 V1.3 M1.1 1.5 H3.9 M2.5 1.5 L1.6 2.4 H3.6 M1.2 3 H3.8 M2.5 2.4 V4.1 M0.5 4.1 H4.5" fill="none" stroke="#333" stroke-width="0.75"/><text x="570.4" y="104.7" font-size="4.8" text-anchor="start" stroke="#222" stroke-width="0.15" fill="#333" font-family="Liberation Sans, sans-serif" textLength="7.5" lengthAdjust="spacingAndGlyphs">3. 9</text><path transform="translate(578.3 100.8) scale(1)" d="M0.3 1.3 H2 V3.6 M0.3 1.3 V3.4 M1.15 0.2 V4.3 M3.7 0 V2.2 M3.7 1 H5 M2.5 2.2 H4.9 V4.2 H2.5 Z" fill="none" stroke="#333" stroke-width="0.75"/></g></svg></body></html>
